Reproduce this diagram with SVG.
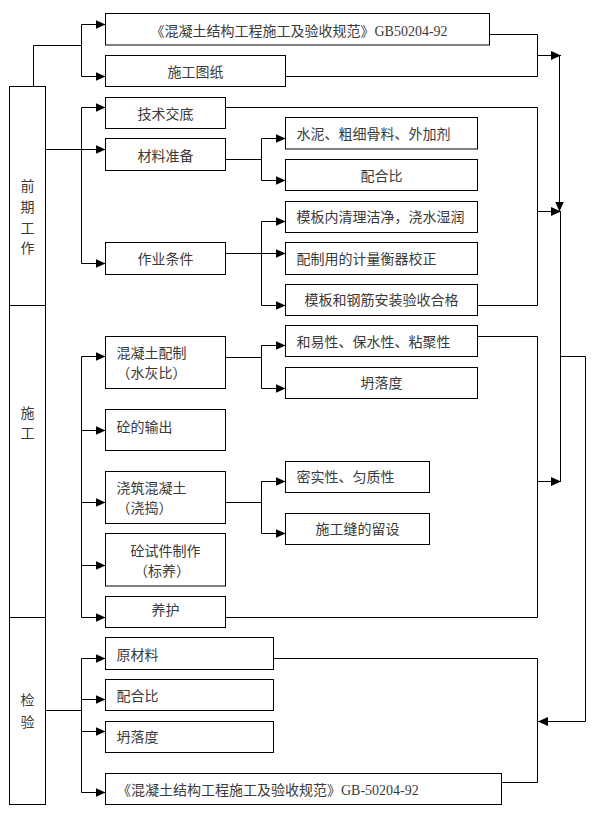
<svg xmlns="http://www.w3.org/2000/svg" width="599" height="813" viewBox="0 0 599 813">
<defs>
<marker id="arr" markerUnits="userSpaceOnUse" markerWidth="11" markerHeight="10" refX="10" refY="4.5" orient="auto">
<path d="M0,0 L10,4.5 L0,9 z" fill="#000"/>
</marker>
<style>
.box{fill:#fff;stroke:#000;stroke-width:1}
.ln{fill:none;stroke:#000;stroke-width:1}
.ar{fill:none;stroke:#000;stroke-width:1;marker-end:url(#arr)}
text{font-family:"Liberation Serif","Noto Sans CJK SC",serif;font-size:14px;fill:#3a3a3a}
.c{text-anchor:middle}
</style>
</defs>
<rect width="599" height="813" fill="#fff"/>
<g id="connectors">
<!-- 前期工作 -->
<path class="ln" d="M33.5,86.5 V45.5 H81.5 M81.5,24.5 V76.5"/>
<path class="ar" d="M81.5,24.5 H105.5"/>
<path class="ar" d="M81.5,76.5 H105.5"/>
<path class="ar" d="M45.5,149.5 H105.5"/>
<path class="ln" d="M81.5,107.5 V263.5"/>
<path class="ar" d="M81.5,107.5 H105.5"/>
<path class="ar" d="M81.5,263.5 H105.5"/>
<path class="ln" d="M225.5,159.5 H261.5 M261.5,138.5 V180.5"/>
<path class="ar" d="M261.5,138.5 H285.5"/>
<path class="ar" d="M261.5,180.5 H285.5"/>
<path class="ar" d="M225.5,253.5 H285.5"/>
<path class="ln" d="M261.5,221.5 V305.5"/>
<path class="ar" d="M261.5,221.5 H285.5"/>
<path class="ar" d="M261.5,305.5 H285.5"/>
<!-- 施工 -->
<path class="ln" d="M81.5,356.5 V617.5"/>
<path class="ar" d="M81.5,356.5 H105.5"/>
<path class="ar" d="M81.5,430.5 H105.5"/>
<path class="ar" d="M81.5,502.5 H105.5"/>
<path class="ar" d="M81.5,565.5 H105.5"/>
<path class="ar" d="M81.5,617.5 H105.5"/>
<path class="ln" d="M225.5,357.5 H261.5 M261.5,345.5 V388.5"/>
<path class="ar" d="M261.5,345.5 H285.5"/>
<path class="ar" d="M261.5,388.5 H285.5"/>
<path class="ln" d="M225.5,502.5 H261.5 M261.5,481.5 V533.5"/>
<path class="ar" d="M261.5,481.5 H285.5"/>
<path class="ar" d="M261.5,533.5 H285.5"/>
<!-- 检验 -->
<path class="ln" d="M45.5,710.5 H81.5 M81.5,658.5 V792.5"/>
<path class="ar" d="M81.5,658.5 H105.5"/>
<path class="ar" d="M81.5,699.5 H105.5"/>
<path class="ar" d="M81.5,731.5 H105.5"/>
<path class="ar" d="M81.5,792.5 H105.5"/>
<!-- right side -->
<path class="ln" d="M489.5,34.5 H537.5 V76.5 H285.5"/>
<path class="ar" d="M537.5,55.5 H561"/>
<path class="ar" d="M559.5,55.5 V211.5"/>
<path class="ln" d="M225.5,107.5 H537.5 V305.5 H477.5"/>
<path class="ar" d="M537.5,211.5 H561"/>
<path class="ln" d="M560.5,211.5 V481.5"/>
<path class="ln" d="M477.5,336.5 H537.5 V617.5 H225.5"/>
<path class="ar" d="M537.5,481.5 H561"/>
<path class="ln" d="M560.5,356.5 H585.5 V721.5 H560"/>
<path class="ar" d="M561,721.5 H538"/>
<path class="ln" d="M273.5,658.5 H537.5 V782.5 H501.5"/>
</g>
<g id="n-qianqi"><rect class="box" x="9.5" y="86.5" width="36" height="219"/>
<text class="c" x="27.5" y="191">前</text><text class="c" x="27.5" y="212">期</text><text class="c" x="27.5" y="233">工</text><text class="c" x="27.5" y="253">作</text></g>
<g id="n-shigong"><rect class="box" x="9.5" y="305.5" width="36" height="312"/>
<text class="c" x="27.5" y="418">施</text><text class="c" x="27.5" y="438">工</text></g>
<g id="n-jianyan"><rect class="box" x="9.5" y="617.5" width="36" height="187"/>
<text class="c" x="27.5" y="705">检</text><text class="c" x="27.5" y="727">验</text></g>
<g id="n-guifan1"><rect class="box" x="105.5" y="13.5" width="384" height="31.5"/><text class="c" x="299" y="36">《混凝土结构工程施工及验收规范》GB50204-92</text></g>
<g id="n-tuzhi"><rect class="box" x="105.5" y="55.5" width="180" height="31"/><text class="c" x="195.5" y="76.5">施工图纸</text></g>
<g id="n-jishu"><rect class="box" x="105.5" y="97.5" width="120" height="31"/><text class="c" x="165.5" y="119">技术交底</text></g>
<g id="n-cailiao"><rect class="box" x="105.5" y="138.5" width="120" height="32"/><text class="c" x="165.5" y="160.5">材料准备</text></g>
<g id="n-zuoye"><rect class="box" x="105.5" y="242.5" width="120" height="32"/><text class="c" x="165.5" y="264">作业条件</text></g>
<g id="n-shuini"><rect class="box" x="285.5" y="117.5" width="192" height="31.5"/><text x="296.5" y="139">水泥、粗细骨料、外加剂</text></g>
<g id="n-peihebi1"><rect class="box" x="285.5" y="159.5" width="192" height="31"/><text class="c" x="381.5" y="180.5">配合比</text></g>
<g id="n-muban1"><rect class="box" x="285.5" y="201.5" width="192" height="31"/><text x="296.5" y="221.5">模板内清理洁净，浇水湿润</text></g>
<g id="n-jiliang"><rect class="box" x="285.5" y="242.5" width="192" height="32"/><text x="296.5" y="264">配制用的计量衡器校正</text></g>
<g id="n-muban2"><rect class="box" x="285.5" y="284.5" width="192" height="31"/><text class="c" x="381.5" y="305">模板和钢筋安装验收合格</text></g>
<g id="n-peizhi"><rect class="box" x="105.5" y="336.5" width="120" height="52"/><text x="116.5" y="357.5">混凝土配制</text><text x="116.5" y="377.5">（水灰比）</text></g>
<g id="n-heyi"><rect class="box" x="285.5" y="325.5" width="192" height="31"/><text x="296.5" y="347">和易性、保水性、粘聚性</text></g>
<g id="n-tanluo1"><rect class="box" x="285.5" y="367.5" width="192" height="31"/><text class="c" x="381.5" y="387.5">坍落度</text></g>
<g id="n-shuchu"><rect class="box" x="105.5" y="409.5" width="120" height="41"/><text x="116.5" y="431.5">砼的输出</text></g>
<g id="n-jiaozhu"><rect class="box" x="105.5" y="471.5" width="120" height="52"/><text x="116.5" y="493">浇筑混凝土</text><text x="116.5" y="513">（浇捣）</text></g>
<g id="n-mishi"><rect class="box" x="285.5" y="461.5" width="144" height="31"/><text x="296.5" y="482">密实性、匀质性</text></g>
<g id="n-shigongfeng"><rect class="box" x="285.5" y="513.5" width="144" height="31"/><text class="c" x="357.5" y="534">施工缝的留设</text></g>
<g id="n-shijian"><rect class="box" x="105.5" y="533.5" width="120" height="52.5"/><text class="c" x="165.5" y="555.5">砼试件制作</text><text class="c" x="162" y="575.5">（标养）</text></g>
<g id="n-yanghu"><rect class="box" x="105.5" y="596.5" width="120" height="31"/><text class="c" x="165.5" y="615">养护</text></g>
<g id="n-yuancailiao"><rect class="box" x="105.5" y="637.5" width="168" height="32"/><text x="116.5" y="660">原材料</text></g>
<g id="n-peihebi2"><rect class="box" x="105.5" y="679.5" width="168" height="31"/><text x="116.5" y="701">配合比</text></g>
<g id="n-tanluo2"><rect class="box" x="105.5" y="721.5" width="168" height="31"/><text x="116.5" y="741.5">坍落度</text></g>
<g id="n-guifan2"><rect class="box" x="105.5" y="773.5" width="396" height="31"/><text x="117" y="795">《混凝土结构工程施工及验收规范》GB-50204-92</text></g>
</svg>
